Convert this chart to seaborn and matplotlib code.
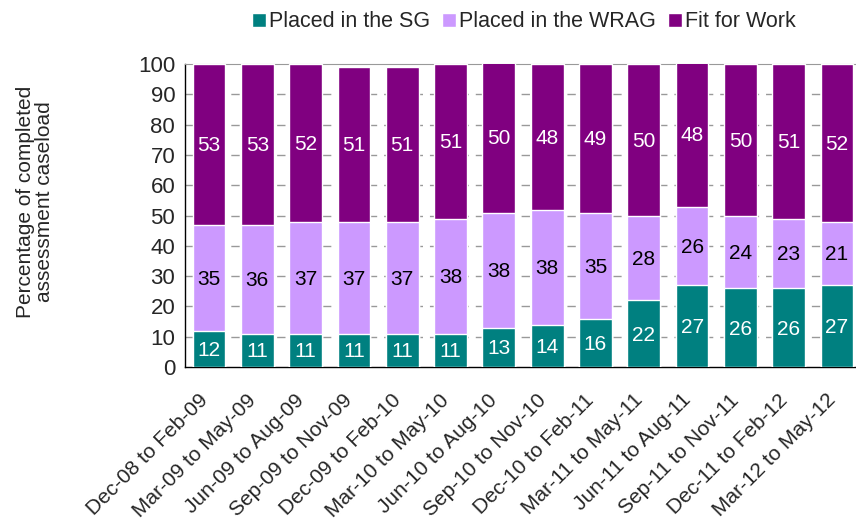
import pandas as pd
import matplotlib.pyplot as plt
import matplotlib.transforms as mtransforms
import seaborn as sns

periods = ["Dec-08 to Feb-09", "Mar-09 to May-09", "Jun-09 to Aug-09", "Sep-09 to Nov-09",
           "Dec-09 to Feb-10", "Mar-10 to May-10", "Jun-10 to Aug-10", "Sep-10 to Nov-10",
           "Dec-10 to Feb-11", "Mar-11 to May-11", "Jun-11 to Aug-11", "Sep-11 to Nov-11",
           "Dec-11 to Feb-12", "Mar-12 to May-12"]
sg = [12, 11, 11, 11, 11, 11, 13, 14, 16, 22, 27, 26, 26, 27]
wrag = [35, 36, 37, 37, 37, 38, 38, 38, 35, 28, 26, 24, 23, 21]
ffw = [53, 53, 52, 51, 51, 51, 50, 48, 49, 50, 48, 50, 51, 52]

series = ["Placed in the SG", "Placed in the WRAG", "Fit for Work"]
colors = ["#008080", "#CC99FF", "#800080"]
text_colors = ["white", "black", "white"]

df = pd.DataFrame({"period": periods, "sg": sg, "wrag": wrag, "ffw": ffw})
df["low"] = df["sg"]
df["mid"] = df["sg"] + df["wrag"]
df["top"] = df["mid"] + df["ffw"]

sns.set_style("white")
plt.rcParams["font.family"] = ["Liberation Sans", "DejaVu Sans"]

fig = plt.figure(figsize=(8.56, 5.22), dpi=100)
ax = fig.add_axes([0.216, 0.297, 0.79, 0.58])

# draw tallest stack first, then overlay the lower ones
for col, c, lab in zip(["top", "mid", "low"], colors[::-1], series[::-1]):
    sns.barplot(data=df, x="period", y=col, color=c, width=0.68, ax=ax,
                saturation=1, label=lab, zorder=3)

for i in range(len(periods)):
    bottoms = [0, sg[i], sg[i] + wrag[i]]
    for vals, b, tc in zip([sg[i], wrag[i], ffw[i]], bottoms, text_colors):
        ax.text(i, b + vals / 2 - 0.5, str(vals), ha="center", va="center",
                color=tc, fontsize=15, zorder=4)

ax.set_ylim(0, 100)
ax.set_xlim(-0.5, 13.5)
ax.set_yticks(range(0, 101, 10))
for y in range(10, 100, 10):
    ax.axhline(y, color="#999999", lw=1, ls=(0, (6, 5)), zorder=1)

ax.set_xticks(range(len(periods)))
ax.set_xticklabels(periods, rotation=45, ha="right", rotation_mode="anchor", fontsize=15)
ax.set_xticks([i - 0.5 for i in range(len(periods) + 1)], minor=True)
ax.tick_params(axis="x", which="major", length=0, pad=9)
ax.tick_params(axis="x", which="minor", length=5, width=1, color="#444444", direction="out")
ax.tick_params(axis="y", length=4, width=1, color="#444444", direction="out", labelsize=16, pad=3)

shift = mtransforms.ScaledTranslation(-11 / 100, -11 / 100, fig.dpi_scale_trans)
for lbl in ax.get_xticklabels():
    lbl.set_transform(lbl.get_transform() + shift)

for s in ["left", "bottom"]:
    ax.spines[s].set_color("black")
    ax.spines[s].set_linewidth(1)
ax.spines["top"].set_color("#999999")
ax.spines["right"].set_visible(False)

ax.set_xlabel("")
ax.set_ylabel("")
fig.text(0.041, 0.613, "Percentage of completed\nassessment caseload", rotation=90,
         ha="center", va="center", fontsize=15, linespacing=1.0)

handles, labels = ax.get_legend_handles_labels()
order = [labels.index(s) for s in series]
ax.legend([handles[k] for k in order], series, loc="center", ncol=3,
          bbox_to_anchor=(0.612, 0.958), bbox_transform=fig.transFigure,
          frameon=False, fontsize=15.5, handlelength=0.65, handleheight=0.65,
          handletextpad=0.15, columnspacing=0.55)

fig.savefig("out.png", dpi=100)
